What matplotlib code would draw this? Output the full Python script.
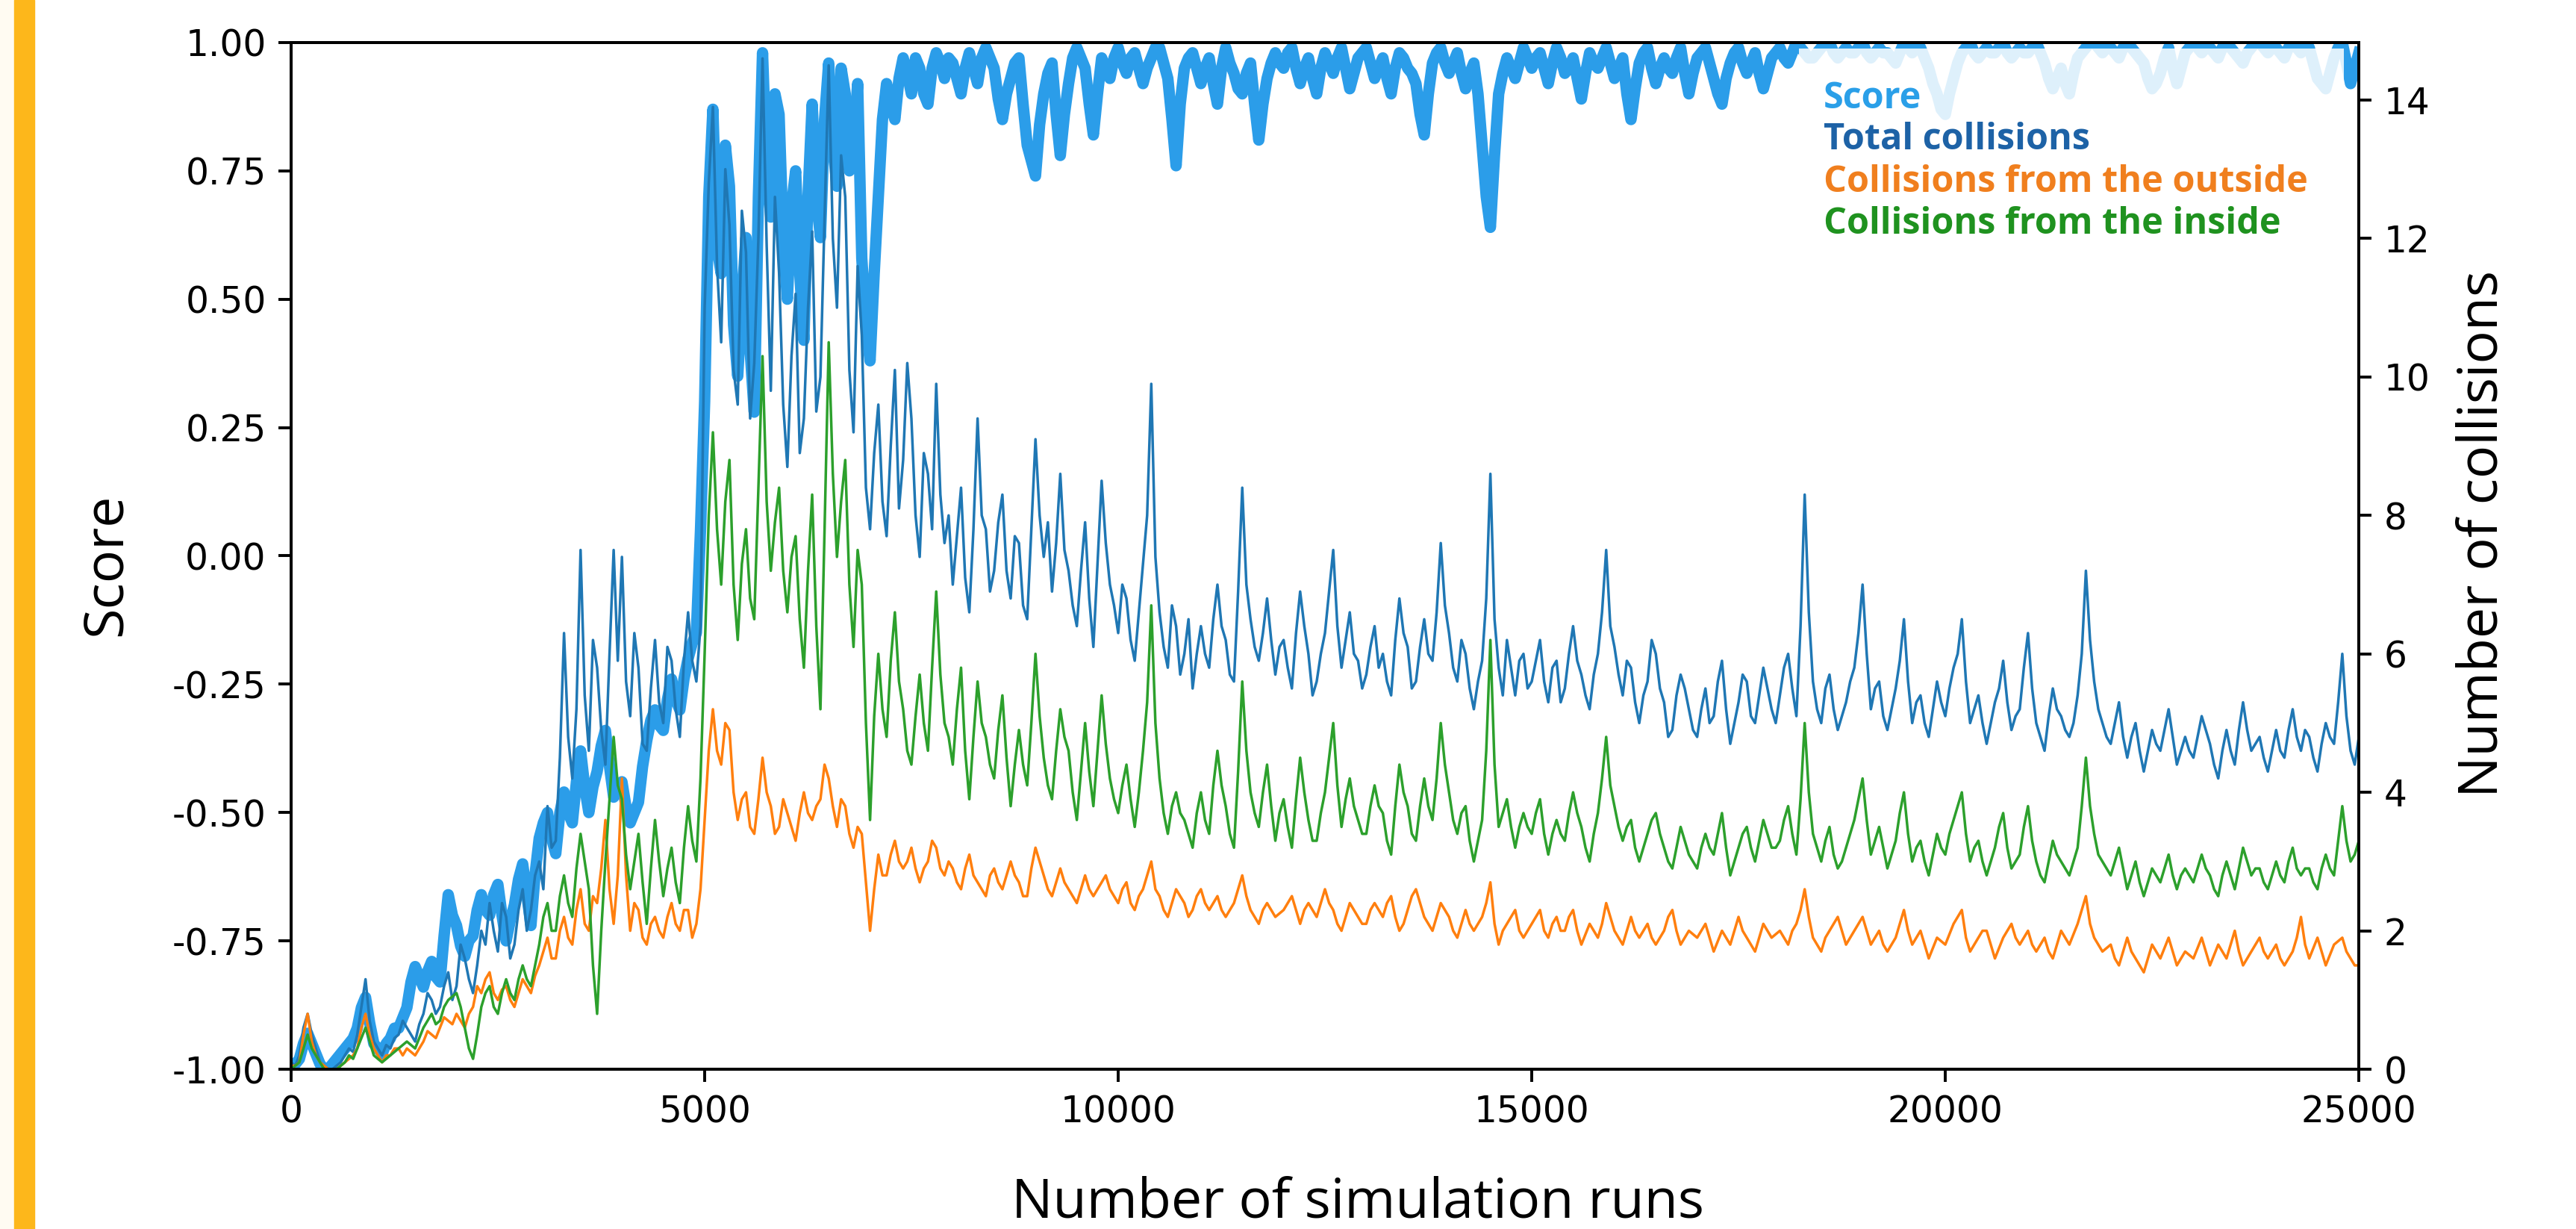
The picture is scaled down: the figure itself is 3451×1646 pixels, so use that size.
import numpy as np
import matplotlib.pyplot as plt
from matplotlib.patches import Rectangle

runs = np.arange(0, 25001, 50)

score = [
    -1.0, -0.99, -0.98, -0.95, -0.93, -0.95, -0.97, -0.99, -1.0, -1.0, -0.99, -0.98, -0.97, -0.96, -0.95, -0.94, -0.92, -0.88, -0.86, -0.91,
    -0.95, -0.96, -0.97, -0.95, -0.94, -0.92, -0.92, -0.9, -0.88, -0.83, -0.8, -0.82, -0.84, -0.81, -0.79, -0.82, -0.83, -0.74, -0.66, -0.7,
    -0.72, -0.76, -0.78, -0.75, -0.74, -0.69, -0.66, -0.69, -0.7, -0.66, -0.64, -0.7, -0.75, -0.71, -0.68, -0.63, -0.6, -0.66, -0.72, -0.62,
    -0.55, -0.52, -0.5, -0.55, -0.58, -0.5, -0.46, -0.5, -0.52, -0.44, -0.38, -0.45, -0.5, -0.45, -0.42, -0.37, -0.34, -0.41, -0.47, -0.45,
    -0.44, -0.49, -0.52, -0.5, -0.48, -0.41, -0.36, -0.32, -0.3, -0.33, -0.34, -0.28, -0.24, -0.28, -0.3, -0.24, -0.2, -0.17, -0.15, 0.05,
    0.3, 0.7, 0.87, 0.6, 0.55, 0.8, 0.72, 0.45, 0.35, 0.5, 0.62, 0.4, 0.28, 0.7, 0.98, 0.75, 0.66, 0.9, 0.86, 0.62,
    0.5, 0.68, 0.75, 0.55, 0.42, 0.7, 0.88, 0.7, 0.62, 0.85, 0.96, 0.8, 0.72, 0.95, 0.9, 0.75, 0.8, 0.92, 0.58, 0.45,
    0.38, 0.55, 0.7, 0.85, 0.92, 0.88, 0.85, 0.93, 0.97, 0.94, 0.9, 0.97, 0.95, 0.9, 0.88, 0.95, 0.98, 0.96, 0.93, 0.97,
    0.96, 0.93, 0.9, 0.95, 0.98, 0.95, 0.92, 0.97, 0.99, 0.97, 0.95, 0.89, 0.85, 0.9, 0.93, 0.96, 0.97, 0.88, 0.8, 0.77,
    0.74, 0.84, 0.9, 0.94, 0.96, 0.86, 0.78, 0.86, 0.92, 0.97, 0.99, 0.97, 0.95, 0.88, 0.82, 0.9, 0.97, 0.95, 0.93, 0.97,
    0.99, 0.96, 0.94, 0.97, 0.98, 0.95, 0.92, 0.95, 0.97, 0.99, 0.99, 0.96, 0.93, 0.85, 0.76, 0.88, 0.95, 0.97, 0.98, 0.95,
    0.92, 0.95, 0.97, 0.92, 0.88, 0.95, 0.99, 0.96, 0.94, 0.91, 0.9, 0.94, 0.96, 0.88, 0.81, 0.88, 0.93, 0.96, 0.98, 0.96,
    0.95, 0.98, 0.99, 0.95, 0.92, 0.95, 0.97, 0.93, 0.9, 0.95, 0.98, 0.96, 0.94, 0.97, 0.99, 0.95, 0.91, 0.94, 0.97, 0.98,
    0.99, 0.96, 0.93, 0.95, 0.97, 0.93, 0.9, 0.95, 0.98, 0.97, 0.95, 0.94, 0.92, 0.86, 0.82, 0.9, 0.96, 0.98, 0.99, 0.96,
    0.94, 0.96, 0.98, 0.94, 0.91, 0.94, 0.96, 0.9, 0.8, 0.7, 0.64, 0.78, 0.9, 0.94, 0.97, 0.95, 0.93, 0.96, 0.99, 0.97,
    0.95, 0.97, 0.98, 0.95, 0.92, 0.96, 0.99, 0.97, 0.94, 0.95, 0.97, 0.93, 0.89, 0.94, 0.98, 0.96, 0.95, 0.97, 0.99, 0.96,
    0.93, 0.95, 0.97, 0.9, 0.85, 0.91, 0.96, 0.98, 0.99, 0.95, 0.92, 0.95, 0.97, 0.95, 0.94, 0.97, 0.99, 0.94, 0.9, 0.94,
    0.97, 0.98, 0.99, 0.96, 0.93, 0.9, 0.88, 0.93, 0.96, 0.98, 0.99, 0.96, 0.94, 0.96, 0.98, 0.94, 0.91, 0.94, 0.97, 0.98,
    0.99, 0.97, 0.96, 0.98, 1.0, 0.99, 0.98, 0.97, 0.97, 0.98, 0.99, 1.0, 1.0, 0.98, 0.97, 0.98, 0.99, 0.98, 0.98, 0.99,
    1.0, 0.98, 0.97, 0.98, 0.99, 0.98, 0.98, 0.97, 0.96, 0.98, 1.0, 0.99, 0.98, 0.99, 0.99, 0.97, 0.95, 0.92, 0.9, 0.87,
    0.86, 0.9, 0.93, 0.96, 0.98, 0.99, 1.0, 0.98, 0.97, 0.98, 0.99, 0.98, 0.98, 0.99, 1.0, 0.98, 0.97, 0.98, 0.99, 0.98,
    0.98, 0.99, 1.0, 0.98, 0.96, 0.93, 0.91, 0.93, 0.95, 0.92, 0.9, 0.94, 0.97, 0.98, 0.99, 1.0, 1.0, 0.99, 0.98, 0.99,
    0.99, 0.98, 0.97, 0.99, 1.0, 0.99, 0.98, 0.97, 0.96, 0.93, 0.91, 0.92, 0.94, 0.97, 0.99, 0.95, 0.92, 0.95, 0.98, 0.99,
    1.0, 0.99, 0.98, 0.99, 0.99, 0.98, 0.97, 0.99, 1.0, 0.99, 0.98, 0.97, 0.96, 0.98, 0.99, 1.0, 1.0, 0.99, 0.98, 0.99,
    0.99, 0.98, 0.97, 0.99, 1.0, 0.99, 0.98, 0.99, 0.99, 0.96, 0.93, 0.92, 0.91, 0.94, 0.97, 0.99, 1.0, 0.96, 0.92, 0.95,
    0.98,
]

total_collisions = [
    0.1, 0.05, 0.2, 0.6, 0.8, 0.5, 0.3, 0.1, 0.05, 0.0, 0.0, 0.05, 0.1, 0.2, 0.3, 0.25, 0.5, 0.9, 1.3, 0.7,
    0.4, 0.3, 0.2, 0.35, 0.3, 0.45, 0.5, 0.7, 0.6, 0.5, 0.4, 0.65, 0.8, 1.1, 1.0, 0.8, 0.9, 1.2, 1.4, 1.0,
    1.2, 1.8, 1.6, 1.3, 1.1, 1.5, 2.0, 1.8, 2.4, 2.0, 1.7, 2.4, 2.2, 1.6, 1.8, 2.3, 2.6, 2.0, 2.3, 2.8,
    3.0, 2.6, 3.8, 3.2, 3.3, 4.5, 6.3, 4.8, 4.2, 5.2, 7.5, 5.4, 4.6, 6.2, 5.8, 4.9, 4.4, 6.0, 7.5, 5.9,
    7.4, 5.6, 5.1, 6.3, 5.8, 4.7, 4.6, 5.5, 6.2, 5.3, 5.0, 6.1, 5.9, 5.2, 4.8, 5.9, 6.6, 5.9, 5.6, 6.4,
    11.0, 12.8, 13.9, 11.6, 10.5, 13.0, 12.2, 10.1, 9.6, 12.4, 11.8, 9.4, 10.2, 12.0, 14.6, 11.9, 9.8, 12.6, 11.5, 9.6,
    8.7, 10.3, 11.2, 8.9, 9.4, 11.0, 12.1, 9.5, 10.0, 12.3, 14.5, 12.0, 11.0, 13.2, 12.6, 10.1, 9.2, 11.6, 10.6, 8.4,
    7.8, 8.9, 9.6, 8.2, 7.7, 9.0, 10.1, 8.1, 8.8, 10.2, 9.4, 8.0, 7.4, 8.9, 8.6, 7.8, 9.9, 8.3, 7.6, 8.0,
    7.0, 7.7, 8.4, 7.1, 6.6, 7.8, 9.4, 8.0, 7.8, 6.9, 7.2, 7.9, 8.3, 7.2, 6.8, 7.7, 7.6, 6.7, 6.5, 7.8,
    9.1, 8.0, 7.4, 7.9, 6.9, 7.6, 8.6, 7.5, 7.2, 6.7, 6.4, 7.2, 7.9, 6.8, 6.1, 7.3, 8.5, 7.6, 7.0, 6.7,
    6.3, 7.0, 6.8, 6.2, 5.9, 6.6, 7.3, 8.0, 9.9, 7.4, 6.6, 6.1, 5.8, 6.7, 6.4, 5.7, 6.0, 6.5, 5.5, 6.0,
    6.4, 6.0, 5.8, 6.5, 7.0, 6.4, 6.2, 5.7, 5.6, 6.9, 8.4, 7.0, 6.5, 6.1, 5.9, 6.3, 6.8, 6.2, 5.7, 6.1,
    6.2, 5.8, 5.5, 6.3, 6.9, 6.4, 6.0, 5.4, 5.6, 6.0, 6.3, 6.9, 7.5, 6.4, 5.8, 6.2, 6.6, 6.0, 5.9, 5.5,
    5.7, 6.1, 6.4, 5.8, 6.0, 5.6, 5.4, 6.2, 6.8, 6.3, 6.1, 5.5, 5.6, 6.1, 6.5, 6.0, 5.9, 6.6, 7.6, 6.7,
    6.3, 5.8, 5.6, 6.2, 6.0, 5.5, 5.2, 5.6, 5.9, 6.8, 8.6, 6.5, 5.8, 5.4, 6.2, 5.8, 5.4, 5.9, 6.0, 5.5,
    5.6, 5.9, 6.2, 5.6, 5.3, 5.8, 5.9, 5.3, 5.5, 6.0, 6.4, 5.9, 5.7, 5.4, 5.2, 5.7, 6.0, 6.6, 7.5, 6.4,
    6.1, 5.7, 5.4, 5.9, 5.8, 5.3, 5.0, 5.4, 5.6, 6.2, 6.0, 5.5, 5.3, 4.8, 4.9, 5.4, 5.7, 5.5, 5.2, 4.9,
    4.8, 5.2, 5.5, 5.0, 5.1, 5.6, 5.9, 5.2, 4.7, 5.0, 5.3, 5.7, 5.6, 5.1, 5.0, 5.4, 5.8, 5.5, 5.2, 5.0,
    5.4, 5.8, 6.0, 5.5, 5.1, 6.4, 8.3, 6.6, 5.6, 5.2, 5.0, 5.5, 5.7, 5.2, 4.9, 5.1, 5.3, 5.6, 5.8, 6.3,
    7.0, 6.0, 5.2, 5.5, 5.6, 5.1, 4.9, 5.2, 5.5, 5.9, 6.5, 5.6, 5.0, 5.3, 5.4, 5.0, 4.8, 5.2, 5.6, 5.3,
    5.1, 5.5, 5.8, 6.0, 6.5, 5.6, 5.0, 5.2, 5.4, 5.0, 4.7, 5.0, 5.3, 5.5, 5.9, 5.3, 4.9, 5.1, 5.2, 5.8,
    6.3, 5.5, 5.0, 4.8, 4.6, 5.1, 5.5, 5.2, 5.1, 4.9, 4.8, 5.0, 5.4, 6.0, 7.2, 6.2, 5.6, 5.2, 5.0, 4.8,
    4.7, 5.0, 5.3, 4.8, 4.5, 4.8, 5.0, 4.6, 4.3, 4.6, 4.9, 4.7, 4.6, 4.9, 5.2, 4.8, 4.4, 4.6, 4.8, 4.6,
    4.5, 4.8, 5.1, 4.9, 4.7, 4.4, 4.2, 4.6, 4.9, 4.6, 4.4, 4.9, 5.3, 4.9, 4.6, 4.7, 4.8, 4.5, 4.3, 4.6,
    4.9, 4.6, 4.5, 4.9, 5.2, 4.8, 4.6, 4.9, 4.8, 4.5, 4.3, 4.7, 5.0, 4.8, 4.7, 5.3, 6.0, 5.1, 4.6, 4.4,
    4.8,
]

outside_collisions = [
    0.05, 0.05, 0.1, 0.5, 0.8, 0.4, 0.2, 0.1, 0.05, 0.0, 0.0, 0.0, 0.05, 0.1, 0.15, 0.2, 0.3, 0.6, 0.8, 0.5,
    0.3, 0.2, 0.1, 0.2, 0.2, 0.3, 0.3, 0.2, 0.3, 0.25, 0.2, 0.3, 0.4, 0.55, 0.5, 0.45, 0.6, 0.75, 0.7, 0.65,
    0.8, 0.7, 0.6, 0.8, 0.9, 1.2, 1.1, 1.3, 1.4, 1.1, 1.0, 1.15, 1.2, 1.0, 0.9, 1.1, 1.3, 1.2, 1.1, 1.35,
    1.5, 1.7, 1.9, 1.6, 1.6, 2.0, 2.2, 1.9, 1.8, 2.3, 2.6, 2.1, 2.0, 2.5, 2.4, 2.9, 3.6, 2.6, 2.1, 2.8,
    4.2, 2.8, 2.0, 2.4, 2.3, 1.9, 1.8, 2.1, 2.2, 2.0, 1.9, 2.2, 2.4, 2.1, 2.0, 2.3, 2.3, 1.9, 2.1, 2.6,
    3.6, 4.6, 5.2, 4.6, 4.4, 5.0, 4.9, 4.0, 3.6, 3.9, 4.0, 3.5, 3.4, 3.9, 4.5, 4.0, 3.8, 3.4, 3.5, 3.9,
    3.7, 3.5, 3.3, 3.7, 4.0, 3.7, 3.6, 3.8, 3.9, 4.4, 4.2, 3.8, 3.5, 3.9, 3.8, 3.4, 3.2, 3.5, 3.4, 2.7,
    2.0, 2.6, 3.1, 2.8, 2.8, 3.1, 3.3, 3.0, 2.9, 3.0, 3.2, 2.9, 2.7, 2.9, 3.0, 3.3, 3.2, 2.9, 2.8, 3.0,
    2.9, 2.7, 2.6, 2.9, 3.1, 2.8, 2.7, 2.6, 2.5, 2.8, 2.9, 2.7, 2.6, 2.8, 3.0, 2.8, 2.7, 2.5, 2.5, 2.9,
    3.2, 3.0, 2.8, 2.6, 2.5, 2.7, 2.9, 2.7, 2.6, 2.5, 2.4, 2.6, 2.8, 2.6, 2.5, 2.6, 2.7, 2.8, 2.6, 2.5,
    2.4, 2.6, 2.7, 2.4, 2.3, 2.5, 2.6, 2.8, 3.0, 2.6, 2.5, 2.3, 2.2, 2.4, 2.6, 2.5, 2.4, 2.2, 2.3, 2.5,
    2.6, 2.4, 2.3, 2.4, 2.5, 2.3, 2.2, 2.3, 2.4, 2.6, 2.8, 2.5, 2.3, 2.2, 2.1, 2.3, 2.4, 2.3, 2.2, 2.25,
    2.3, 2.4, 2.5, 2.3, 2.1, 2.3, 2.4, 2.3, 2.2, 2.4, 2.6, 2.4, 2.3, 2.1, 2.0, 2.2, 2.4, 2.3, 2.2, 2.1,
    2.1, 2.3, 2.4, 2.3, 2.2, 2.4, 2.5, 2.2, 2.0, 2.1, 2.3, 2.5, 2.6, 2.4, 2.2, 2.1, 2.0, 2.2, 2.4, 2.3,
    2.2, 2.0, 1.9, 2.1, 2.3, 2.1, 2.0, 2.1, 2.2, 2.4, 2.7, 2.1, 1.8, 2.0, 2.1, 2.2, 2.3, 2.0, 1.9, 2.0,
    2.1, 2.2, 2.3, 2.0, 1.9, 2.1, 2.2, 2.0, 2.0, 2.2, 2.3, 2.0, 1.8, 1.95, 2.1, 2.0, 1.9, 2.1, 2.4, 2.2,
    2.0, 1.9, 1.8, 2.0, 2.2, 2.0, 1.9, 2.0, 2.1, 1.9, 1.8, 1.9, 2.0, 2.2, 2.3, 2.0, 1.8, 1.9, 2.0, 1.95,
    1.9, 2.0, 2.1, 1.9, 1.7, 1.85, 2.0, 1.9, 1.8, 2.0, 2.2, 2.0, 1.9, 1.8, 1.7, 1.9, 2.1, 2.0, 1.9, 1.95,
    2.0, 1.9, 1.8, 2.0, 2.1, 2.3, 2.6, 2.2, 1.9, 1.8, 1.7, 1.9, 2.0, 2.1, 2.2, 2.0, 1.8, 1.9, 2.0, 2.1,
    2.2, 2.0, 1.8, 1.9, 2.0, 1.8, 1.7, 1.8, 1.9, 2.1, 2.3, 2.0, 1.8, 1.9, 2.0, 1.8, 1.6, 1.75, 1.9, 1.85,
    1.8, 1.95, 2.1, 2.2, 2.3, 1.9, 1.7, 1.8, 1.9, 2.0, 2.0, 1.8, 1.6, 1.75, 1.9, 2.0, 2.1, 1.9, 1.8, 1.9,
    2.0, 1.8, 1.7, 1.8, 1.9, 1.7, 1.6, 1.8, 2.0, 1.9, 1.8, 1.95, 2.1, 2.3, 2.5, 2.1, 1.9, 1.8, 1.7, 1.75,
    1.8, 1.6, 1.5, 1.7, 1.9, 1.7, 1.6, 1.5, 1.4, 1.6, 1.8, 1.7, 1.6, 1.75, 1.9, 1.7, 1.5, 1.6, 1.7, 1.65,
    1.6, 1.75, 1.9, 1.7, 1.5, 1.65, 1.8, 1.7, 1.6, 1.8, 2.0, 1.7, 1.5, 1.6, 1.7, 1.8, 1.9, 1.7, 1.6, 1.7,
    1.8, 1.6, 1.5, 1.6, 1.7, 1.9, 2.2, 1.8, 1.6, 1.75, 1.9, 1.7, 1.5, 1.65, 1.8, 1.85, 1.9, 1.7, 1.6, 1.5,
    1.5,
]

inside_collisions = [
    0.0, 0.05, 0.1, 0.3, 0.5, 0.3, 0.2, 0.1, 0.0, 0.0, 0.0, 0.0, 0.05, 0.1, 0.2, 0.15, 0.3, 0.45, 0.6, 0.4,
    0.2, 0.15, 0.1, 0.15, 0.2, 0.25, 0.3, 0.35, 0.4, 0.35, 0.3, 0.45, 0.6, 0.7, 0.8, 0.65, 0.7, 0.9, 1.0, 1.05,
    1.1, 0.9, 0.6, 0.3, 0.15, 0.5, 0.9, 1.1, 1.2, 0.9, 0.8, 1.1, 1.3, 1.1, 1.0, 1.3, 1.5, 1.3, 1.2, 1.5,
    1.8, 2.2, 2.4, 2.0, 2.0, 2.5, 2.8, 2.4, 2.2, 2.9, 3.4, 3.0, 2.6, 1.5, 0.8, 2.0, 3.0, 3.9, 4.8, 4.1,
    3.9, 3.1, 2.6, 3.0, 3.4, 2.7, 2.1, 2.9, 3.6, 3.0, 2.5, 2.9, 3.2, 2.7, 2.4, 3.2, 3.8, 3.3, 3.0, 4.2,
    6.0, 8.0, 9.2, 7.8, 7.0, 8.2, 8.8, 7.0, 6.2, 7.3, 7.8, 6.8, 6.5, 8.4, 10.3, 8.2, 7.2, 7.9, 8.4, 7.2,
    6.6, 7.4, 7.7, 6.5, 5.8, 7.2, 8.3, 6.4, 5.2, 7.8, 10.5, 8.6, 7.4, 8.2, 8.8, 7.0, 6.1, 7.5, 7.0, 5.0,
    3.6, 5.1, 6.0, 5.2, 4.8, 5.9, 6.6, 5.6, 5.2, 4.6, 4.4, 5.1, 5.7, 5.0, 4.6, 5.8, 6.9, 5.7, 5.0, 4.8,
    4.4, 5.2, 5.8, 4.6, 3.9, 4.8, 5.6, 5.0, 4.8, 4.4, 4.2, 4.9, 5.4, 4.5, 3.8, 4.4, 4.9, 4.4, 4.1, 5.0,
    6.0, 5.1, 4.5, 4.1, 3.9, 4.6, 5.2, 4.8, 4.6, 4.0, 3.6, 4.3, 5.0, 4.3, 3.8, 4.6, 5.4, 4.7, 4.2, 3.9,
    3.7, 4.1, 4.4, 3.9, 3.5, 4.0, 4.6, 5.3, 6.7, 5.0, 4.2, 3.7, 3.4, 3.8, 4.0, 3.7, 3.6, 3.4, 3.2, 3.7,
    4.0, 3.6, 3.4, 4.1, 4.6, 4.1, 3.8, 3.4, 3.2, 4.3, 5.6, 4.6, 4.0, 3.7, 3.5, 4.0, 4.4, 3.8, 3.3, 3.7,
    3.9, 3.5, 3.2, 3.9, 4.5, 4.0, 3.6, 3.3, 3.3, 3.7, 4.0, 4.5, 5.0, 4.1, 3.5, 3.9, 4.2, 3.8, 3.6, 3.4,
    3.4, 3.8, 4.1, 3.8, 3.7, 3.3, 3.1, 3.8, 4.4, 4.0, 3.8, 3.4, 3.3, 3.8, 4.2, 3.8, 3.6, 4.2, 5.0, 4.4,
    4.0, 3.6, 3.4, 3.7, 3.8, 3.3, 3.0, 3.3, 3.6, 4.6, 6.2, 4.4, 3.5, 3.7, 3.9, 3.5, 3.2, 3.5, 3.7, 3.5,
    3.4, 3.7, 3.9, 3.4, 3.1, 3.4, 3.6, 3.4, 3.3, 3.7, 4.0, 3.7, 3.5, 3.2, 3.0, 3.4, 3.7, 4.2, 4.8, 4.1,
    3.8, 3.5, 3.3, 3.5, 3.6, 3.2, 3.0, 3.2, 3.4, 3.6, 3.7, 3.4, 3.2, 3.0, 2.9, 3.2, 3.5, 3.3, 3.1, 3.0,
    2.9, 3.2, 3.4, 3.2, 3.1, 3.4, 3.7, 3.2, 2.8, 3.0, 3.2, 3.4, 3.5, 3.2, 3.0, 3.3, 3.6, 3.4, 3.2, 3.2,
    3.3, 3.6, 3.8, 3.4, 3.1, 3.9, 5.0, 4.0, 3.4, 3.2, 3.0, 3.3, 3.5, 3.1, 2.9, 3.0, 3.2, 3.4, 3.6, 3.9,
    4.2, 3.6, 3.1, 3.3, 3.5, 3.2, 2.9, 3.1, 3.3, 3.7, 4.0, 3.4, 3.0, 3.2, 3.3, 3.0, 2.8, 3.1, 3.4, 3.2,
    3.1, 3.4, 3.6, 3.8, 4.0, 3.4, 3.0, 3.2, 3.3, 3.0, 2.8, 3.0, 3.2, 3.5, 3.7, 3.2, 2.9, 3.0, 3.1, 3.5,
    3.8, 3.3, 3.0, 2.8, 2.7, 3.0, 3.3, 3.1, 3.0, 2.9, 2.8, 3.0, 3.2, 3.8, 4.5, 3.8, 3.4, 3.1, 3.0, 2.9,
    2.8, 3.0, 3.2, 2.9, 2.6, 2.8, 3.0, 2.7, 2.5, 2.7, 2.9, 2.8, 2.7, 2.9, 3.1, 2.8, 2.6, 2.8, 2.9, 2.8,
    2.7, 2.9, 3.1, 2.9, 2.8, 2.6, 2.5, 2.8, 3.0, 2.8, 2.6, 2.9, 3.2, 3.0, 2.8, 2.9, 2.9, 2.7, 2.6, 2.8,
    3.0, 2.8, 2.7, 3.0, 3.2, 2.9, 2.8, 2.9, 2.9, 2.7, 2.6, 2.9, 3.1, 2.9, 2.8, 3.3, 3.8, 3.3, 3.0, 3.1,
    3.3,
]

labels = ['Score', 'Total collisions', 'Collisions from the outside',
          'Collisions from the inside']
colors = ['#2b9de9', '#1f77b4', '#ff7f0e', '#2ca02c']
label_colors = ['#2a9fe8', '#1d62a6', '#f07f1e', '#1f921f']

W, H = 3451, 1646


def plot_training():

    fig = plt.figure(figsize=(W / 100, H / 100), dpi=100)

    # Decorative strips on the left edge
    fig.patches.append(Rectangle((0, 0), 19 / W, 1, transform=fig.transFigure,
                                 color='#fffbf2', zorder=0))
    fig.patches.append(Rectangle((19 / W, 0), 27 / W, 1,
                                 transform=fig.transFigure, color='#fdb71b', zorder=0))

    ax = fig.add_axes([0.1130, 0.1300, 0.8027, 0.8354])
    ax2 = ax.twinx()

    # Score on the left axis
    ax.plot(runs, score, color=colors[0], lw=11, solid_joinstyle='round')

    # Collision counts on the right axis
    ax2.plot(runs, total_collisions, color=colors[1], lw=2.5)
    ax2.plot(runs, outside_collisions, color=colors[2], lw=2.5)
    ax2.plot(runs, inside_collisions, color=colors[3], lw=2.5)

    ax.set_xlim(0, 25000)
    ax.set_ylim(-1, 1)
    ax2.set_ylim(0, 14.83)
    ax.set_xticks([0, 5000, 10000, 15000, 20000, 25000])
    ax.set_yticks([-1, -0.75, -0.5, -0.25, 0, 0.25, 0.5, 0.75, 1])
    ax.yaxis.set_major_formatter(plt.FormatStrFormatter('%.2f'))
    ax2.set_yticks([0, 2, 4, 6, 8, 10, 12, 14])

    for a in (ax, ax2):
        a.tick_params(labelsize=35, length=12, width=2.8, pad=12)
        for s in a.spines.values():
            s.set_linewidth(2.8)

    # Axis titles
    fig.text(0.0414, 0.5407, 'Score', rotation=90, ha='center', va='center',
             family='Open Sans', fontsize=53)
    fig.text(0.527, 0.0097, 'Number of simulation runs', ha='center',
             va='baseline', family='Open Sans', fontsize=53)
    fig.text(0.964, 0.5656, 'Number of collisions', rotation=90, ha='center',
             va='center', family='Open Sans', fontsize=53)

    # Coloured text legend over a faded white box
    fig.patches.append(Rectangle((2410 / W, 1 - 330 / H), 730 / W, 265 / H,
                                 transform=fig.transFigure, facecolor='white',
                                 alpha=0.85, edgecolor='none', zorder=2))
    baselines = [145, 200, 257, 313]
    for lab, c, yb in zip(labels, label_colors, baselines):
        fig.text(2443 / W, 1 - yb / H, lab, color=c, family='Open Sans',
                 weight='bold', fontsize=35, va='baseline', zorder=5)

    fig.savefig('out.png', dpi=100)


if __name__ == "__main__":
    plot_training()
